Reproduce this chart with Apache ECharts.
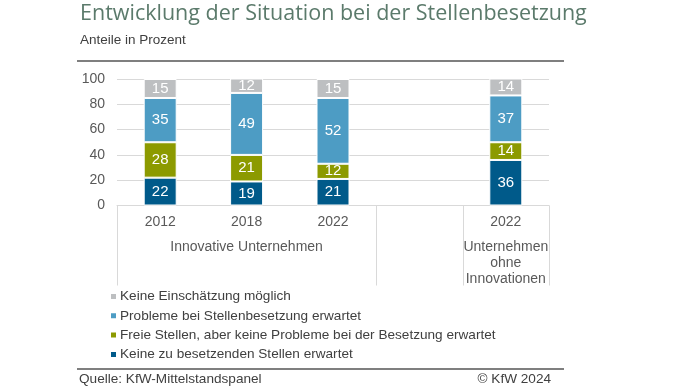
<!DOCTYPE html>
<html>
<head>
<meta charset="utf-8">
<script src="https://cdn.jsdelivr.net/npm/echarts@6/dist/echarts.min.js"></script>
<style>
html,body{margin:0;padding:0;background:#fff;}
#chart{width:696px;height:392px;}
</style>
</head>
<body>
<div id="chart"></div>
<script>
const categories = ['2012', '2018', '2022', '', '2022'];
const keineStellen = [22, 19, 21, null, 36];
const freieStellen = [28, 21, 12, null, 14];
const probleme = [35, 49, 52, null, 37];
const keineEinschaetzung = [15, 12, 15, null, 14];
const yTicks = [0, 20, 40, 60, 80, 100];
const groups = [
  { label: 'Innovative Unternehmen', from: 0, to: 2 },
  { label: 'Unternehmen\nohne\nInnovationen', from: 4, to: 4 }
];
const separators = [0, 3, 4, 5];
const seriesNames = [
  'Keine zu besetzenden Stellen erwartet',
  'Freie Stellen, aber keine Probleme bei der Besetzung erwartet',
  'Probleme bei Stellenbesetzung erwartet',
  'Keine Einschätzung möglich'
];
const colors = ['#005a8a', '#8c9a00', '#4d9cc4', '#bdbfc1'];
const seriesData = [keineStellen, freieStellen, probleme, keineEinschaetzung];

const FONT = '"Liberation Sans", Arial, sans-serif';
const chart = echarts.init(document.getElementById('chart'), null, { renderer: 'canvas' });

const option = {
  animation: false,
  color: colors,
  title: {
    text: 'Entwicklung der Situation bei der Stellenbesetzung',
    left: 75, top: -2,
    textStyle: { fontFamily: '"Open Sans", sans-serif', fontSize: 21.5, fontWeight: 'normal', color: '#5b7a6b' },
    subtext: 'Anteile in Prozent',
    itemGap: 8,
    subtextStyle: { fontFamily: FONT, fontSize: 13.5, color: '#404040' }
  },
  grid: { left: 117, right: 147, top: 79, bottom: 186.5, containLabel: false },
  legend: {
    orient: 'vertical',
    left: 104, top: 284.5,
    itemWidth: 7, itemHeight: 7, itemGap: 5.3,
    icon: 'rect',
    data: [seriesNames[3], seriesNames[2], seriesNames[1], seriesNames[0]],
    textStyle: { fontFamily: FONT, fontSize: 13.6, color: '#404040', padding: [0, 0, 0, -2] }
  },
  xAxis: {
    type: 'category',
    data: categories,
    axisLine: { lineStyle: { color: '#d9d9d9', width: 1 } },
    axisTick: { show: false },
    axisLabel: { fontFamily: FONT, fontSize: 14, color: '#595959', margin: 10, interval: 0 }
  },
  yAxis: {
    type: 'value', min: 0, max: 100, interval: 20,
    axisLine: { show: false },
    axisTick: { show: false },
    splitLine: { lineStyle: { color: '#d9d9d9', width: 1 } },
    axisLabel: { fontFamily: FONT, fontSize: 14, color: '#595959', margin: 12,
      formatter: v => yTicks.indexOf(v) >= 0 ? String(v) : '' }
  },
  series: seriesData.map((d, i) => ({
    name: seriesNames[i],
    type: 'bar',
    stack: 'total',
    data: d,
    barWidth: 33,
    itemStyle: { color: colors[i], borderColor: '#ffffff', borderWidth: 1 },
    label: { show: true, position: 'inside', color: '#ffffff', fontFamily: FONT, fontSize: 15 }
  }))
};
chart.setOption(option);

// annotations derived from axis scale
const yBase = chart.convertToPixel({ yAxisIndex: 0 }, 0);
const c0 = chart.convertToPixel({ xAxisIndex: 0 }, 0);
const c1 = chart.convertToPixel({ xAxisIndex: 0 }, 1);
const band = c1 - c0;
const boundary = i => c0 - band / 2 + i * band;
const graphics = [];
separators.forEach(i => {
  const x = Math.round(boundary(i)) + 0.5;
  graphics.push({ type: 'line', shape: { x1: x, y1: yBase, x2: x, y2: yBase + 80 }, style: { stroke: '#d9d9d9', lineWidth: 1 } });
});
groups.forEach(g => {
  const cx = (boundary(g.from) + boundary(g.to + 1)) / 2;
  graphics.push({ type: 'text', x: cx, y: yBase + 34, style: { text: g.label, fontFamily: FONT, fontSize: 14, fill: '#595959', align: 'center', verticalAlign: 'top', lineHeight: 16 } });
});
graphics.push({ type: 'line', shape: { x1: 77, y1: 61, x2: 564, y2: 61 }, style: { stroke: '#7f7f7f', lineWidth: 2 } });
graphics.push({ type: 'line', shape: { x1: 77, y1: 369, x2: 564, y2: 369 }, style: { stroke: '#7f7f7f', lineWidth: 2 } });
graphics.push({ type: 'text', x: 79, y: 379.5, style: { text: 'Quelle: KfW-Mittelstandspanel', fontFamily: FONT, fontSize: 13.6, fill: '#404040', align: 'left', verticalAlign: 'middle' } });
graphics.push({ type: 'text', x: 551, y: 379.5, style: { text: '© KfW 2024', fontFamily: FONT, fontSize: 13.6, fill: '#404040', align: 'right', verticalAlign: 'middle' } });
chart.setOption({ graphic: graphics });
</script>
</body>
</html>
